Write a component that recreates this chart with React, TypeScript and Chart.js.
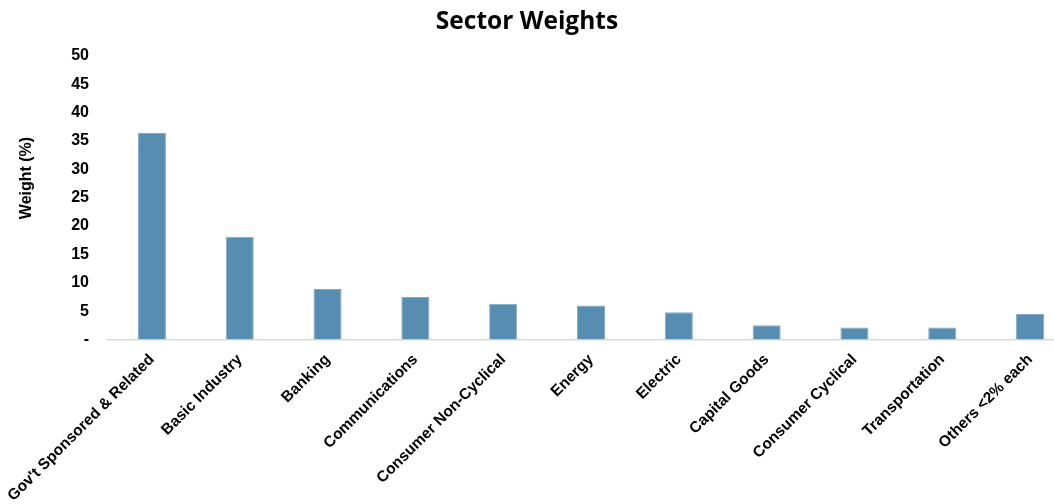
import React, { useEffect, useRef } from "react";
import { Chart, registerables } from "chart.js";

Chart.register(...registerables);

const categories = [
  "Gov't Sponsored & Related",
  "Basic Industry",
  "Banking",
  "Communications",
  "Consumer Non-Cyclical",
  "Energy",
  "Electric",
  "Capital Goods",
  "Consumer Cyclical",
  "Transportation",
  "Others <2% each",
];

const weights = [36.4, 18.1, 8.9, 7.5, 6.3, 6.0, 4.8, 2.5, 2.1, 2.1, 4.5];

const chartTitle = "Sector Weights";
const yAxisTitle = "Weight (%)";

const textPlugin = {
  id: "textPlugin",
  afterDraw(chart: any) {
    const ctx = chart.ctx;
    ctx.save();
    ctx.font = "bold 24.5px 'Open Sans', sans-serif";
    ctx.fillStyle = "#000";
    ctx.textAlign = "center";
    ctx.textBaseline = "middle";
    ctx.fillText(chartTitle, 527, 22);
    ctx.restore();

    ctx.save();
    ctx.translate(27, 178);
    ctx.rotate(-Math.PI / 2);
    ctx.font = "bold 16px 'Liberation Sans', Arial, sans-serif";
    ctx.fillStyle = "#000";
    ctx.textAlign = "center";
    ctx.textBaseline = "middle";
    ctx.fillText(yAxisTitle, 0, 0);
    ctx.restore();
  },
};

export default function App() {
  const ref = useRef<HTMLCanvasElement | null>(null);

  useEffect(() => {
    if (!ref.current) return;
    const chart = new Chart(ref.current, {
      type: "bar",
      data: {
        labels: categories,
        datasets: [
          {
            data: weights,
            backgroundColor: "#578DB0",
            borderColor: "#86ABC6",
            borderWidth: 1,
            barPercentage: 0.64,
            categoryPercentage: 0.5,
          },
        ],
      },
      options: {
        animation: false,
        responsive: false,
        layout: { padding: { top: 55.8, left: 0, right: 0, bottom: 0 } },
        plugins: {
          legend: { display: false },
          tooltip: { enabled: false },
          title: { display: false },
        },
        scales: {
          x: {
            grid: { display: false, drawTicks: false },
            border: { display: true, color: "#d9d9d9", width: 1.5 },
            ticks: {
              autoSkip: false,
              maxRotation: 45,
              minRotation: 45,
              padding: 11,
              color: "#000",
              font: { family: "'Liberation Sans', Arial, sans-serif", size: 15.5, weight: "bold" },
            },
            afterFit(scale: any) {
              scale.height = 164.5;
              scale.paddingLeft = 0;
              scale.paddingRight = 0;
            },
          },
          y: {
            min: 0,
            max: 50,
            grid: { display: false, drawTicks: false },
            border: { display: false },
            ticks: {
              stepSize: 5,
              padding: 19,
              color: "#000",
              font: { family: "'Liberation Sans', Arial, sans-serif", size: 16, weight: "bold" },
              callback: (v: any) => (v === 0 ? "-" : String(v)),
            },
            afterFit(scale: any) {
              scale.width = 108;
            },
          },
        },
      },
      plugins: [textPlugin],
    });
    return () => chart.destroy();
  }, []);

  return (
    <div style={{ position: "fixed", left: 0, top: 0, width: 1074, height: 504, background: "#fff" }}>
      <canvas ref={ref} width={1074} height={504} />
    </div>
  );
}
